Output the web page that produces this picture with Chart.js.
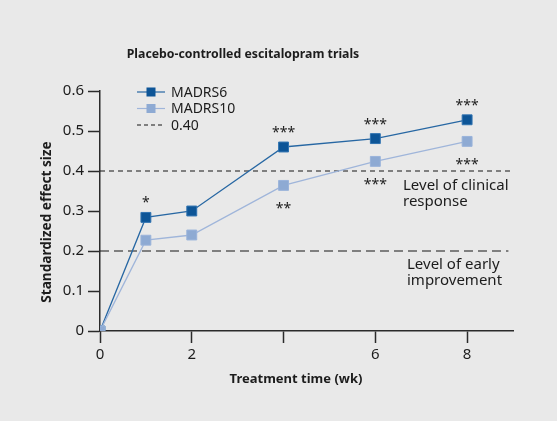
<!DOCTYPE html>
<html>
<head>
<meta charset="utf-8">
<script src="https://cdn.jsdelivr.net/npm/chart.js@4"></script>
<style>
  html, body { margin: 0; padding: 0; background: #e9e9e9; }
  #wrap { width: 557px; height: 421px; }
</style>
</head>
<body>
<div id="wrap"><canvas id="escitalopram"></canvas></div>
<script>
// values
var weeks = [0, 1, 2, 4, 6, 8];
var madrs6 = [0, 0.284, 0.30, 0.46, 0.481, 0.528];
var madrs10 = [0, 0.227, 0.24, 0.364, 0.424, 0.474];
var stars6 = ['', '*', '', '***', '***', '***'];
var stars10 = ['', '', '', '**', '***', '***'];
var xTickLabels = {0: '0', 2: '2', 4: '', 6: '6', 8: '8'};
var clinicalLevel = 0.40;
var earlyLevel = 0.20;

var FONT = '"Noto Sans", "Open Sans", sans-serif';
var INK = '#1c1c1c';
var DARK = '#0d5597';
var LIGHT = '#8eaad3';

function points(ys) {
    return weeks.map(function (w, i) { return {x: w, y: ys[i]}; });
}

var extras = {
    id: 'extras',
    beforeDatasetsDraw: function (chart) {
        var c = chart.ctx, x = chart.scales.x, y = chart.scales.y;
        c.save();
        c.strokeStyle = '#161616';
        c.lineWidth = 1.2;
        c.setLineDash([5, 4]);
        c.beginPath();
        c.moveTo(x.getPixelForValue(0), y.getPixelForValue(clinicalLevel));
        c.lineTo(x.getPixelForValue(9), y.getPixelForValue(clinicalLevel));
        c.stroke();
        c.setLineDash([9, 5]);
        c.beginPath();
        c.moveTo(x.getPixelForValue(0), y.getPixelForValue(earlyLevel));
        c.lineTo(x.getPixelForValue(8.9), y.getPixelForValue(earlyLevel));
        c.stroke();
        c.restore();
    },
    afterDraw: function (chart) {
        var c = chart.ctx, x = chart.scales.x, y = chart.scales.y;
        c.save();
        c.fillStyle = INK;

        // titles
        c.font = 'bold 12.3px ' + FONT;
        c.textAlign = 'center';
        c.textBaseline = 'middle';
        c.fillText('Placebo-controlled escitalopram trials', 243, 54);
        c.font = 'bold 13px ' + FONT;
        c.fillText('Treatment time (wk)', 296, 379);
        c.save();
        c.font = 'bold 13.6px ' + FONT;
        c.translate(47, 222);
        c.rotate(-Math.PI / 2);
        c.fillText('Standardized effect size', 0, 0);
        c.restore();

        // significance marks
        c.font = '14px ' + FONT;
        c.textBaseline = 'alphabetic';
        weeks.forEach(function (w, i) {
            var px = x.getPixelForValue(w);
            if (stars6[i]) c.fillText(stars6[i], px, y.getPixelForValue(madrs6[i]) - 10);
            if (stars10[i]) c.fillText(stars10[i], px, y.getPixelForValue(madrs10[i]) + 28);
        });

        // level labels
        c.font = '15px ' + FONT;
        c.textAlign = 'left';
        c.fillText('Level of clinical', 403, 190);
        c.fillText('response', 403, 206);
        c.fillText('Level of early', 407, 269);
        c.fillText('improvement', 407, 285);

        // legend
        var rows = [
            {label: 'MADRS6', line: '#2767a3', box: DARK},
            {label: 'MADRS10', line: '#9fb5da', box: LIGHT},
            {label: '0.40', dash: true}
        ];
        c.font = '14px ' + FONT;
        c.textBaseline = 'middle';
        rows.forEach(function (r, i) {
            var ly = 92 + i * 16.5;
            c.lineWidth = 1.2;
            if (r.dash) {
                c.strokeStyle = '#161616';
                c.setLineDash([4, 3]);
            } else {
                c.strokeStyle = r.line;
                c.setLineDash([]);
            }
            c.beginPath();
            c.moveTo(137, ly);
            c.lineTo(165, ly);
            c.stroke();
            c.setLineDash([]);
            if (r.box) {
                c.fillStyle = r.box;
                c.fillRect(146.5, ly - 4.5, 9, 9);
            }
            c.fillStyle = INK;
            c.fillText(r.label, 171, ly + 1);
        });
        c.restore();
    }
};

new Chart(document.getElementById('escitalopram'), {
    type: 'line',
    data: {
        datasets: [{
            label: 'MADRS6',
            data: points(madrs6),
            borderColor: '#2767a3',
            borderWidth: 1.3,
            pointStyle: 'rect',
            pointRadius: 7,
            pointBackgroundColor: DARK,
            pointBorderColor: '#2f72b0',
            pointBorderWidth: 1,
            order: 2
        }, {
            label: 'MADRS10',
            data: points(madrs10),
            borderColor: '#9fb5da',
            borderWidth: 1.3,
            pointStyle: 'rect',
            pointRadius: 7,
            pointBackgroundColor: LIGHT,
            pointBorderColor: '#9ab3da',
            pointBorderWidth: 1,
            order: 1
        }]
    },
    options: {
        responsive: true,
        maintainAspectRatio: false,
        animation: false,
        layout: {padding: {left: 0, top: 91, right: 44, bottom: 0}},
        plugins: {
            legend: {display: false},
            tooltip: {enabled: false}
        },
        scales: {
            x: {
                type: 'linear',
                min: 0,
                max: 9,
                afterFit: function (s) { s.height = 90; },
                afterBuildTicks: function (s) {
                    s.ticks = Object.keys(xTickLabels).map(function (k) { return {value: +k}; });
                },
                border: {color: '#2a2a2a', width: 1.5},
                grid: {drawOnChartArea: false, tickLength: 12, color: '#2a2a2a', tickWidth: 1.5},
                ticks: {
                    color: INK,
                    padding: 3,
                    font: {family: FONT, size: 15},
                    callback: function (v) { return xTickLabels[v]; }
                }
            },
            y: {
                min: 0,
                max: 0.6,
                afterFit: function (s) { s.width = 100; },
                border: {color: '#2a2a2a', width: 1.5},
                grid: {drawOnChartArea: false, tickLength: 12, color: '#2a2a2a', tickWidth: 1.5},
                ticks: {
                    stepSize: 0.1,
                    color: INK,
                    padding: 4,
                    font: {family: FONT, size: 15},
                    callback: function (v) { return v === 0 ? '0' : v.toFixed(1); }
                }
            }
        }
    },
    plugins: [extras]
});
</script>
</body>
</html>
